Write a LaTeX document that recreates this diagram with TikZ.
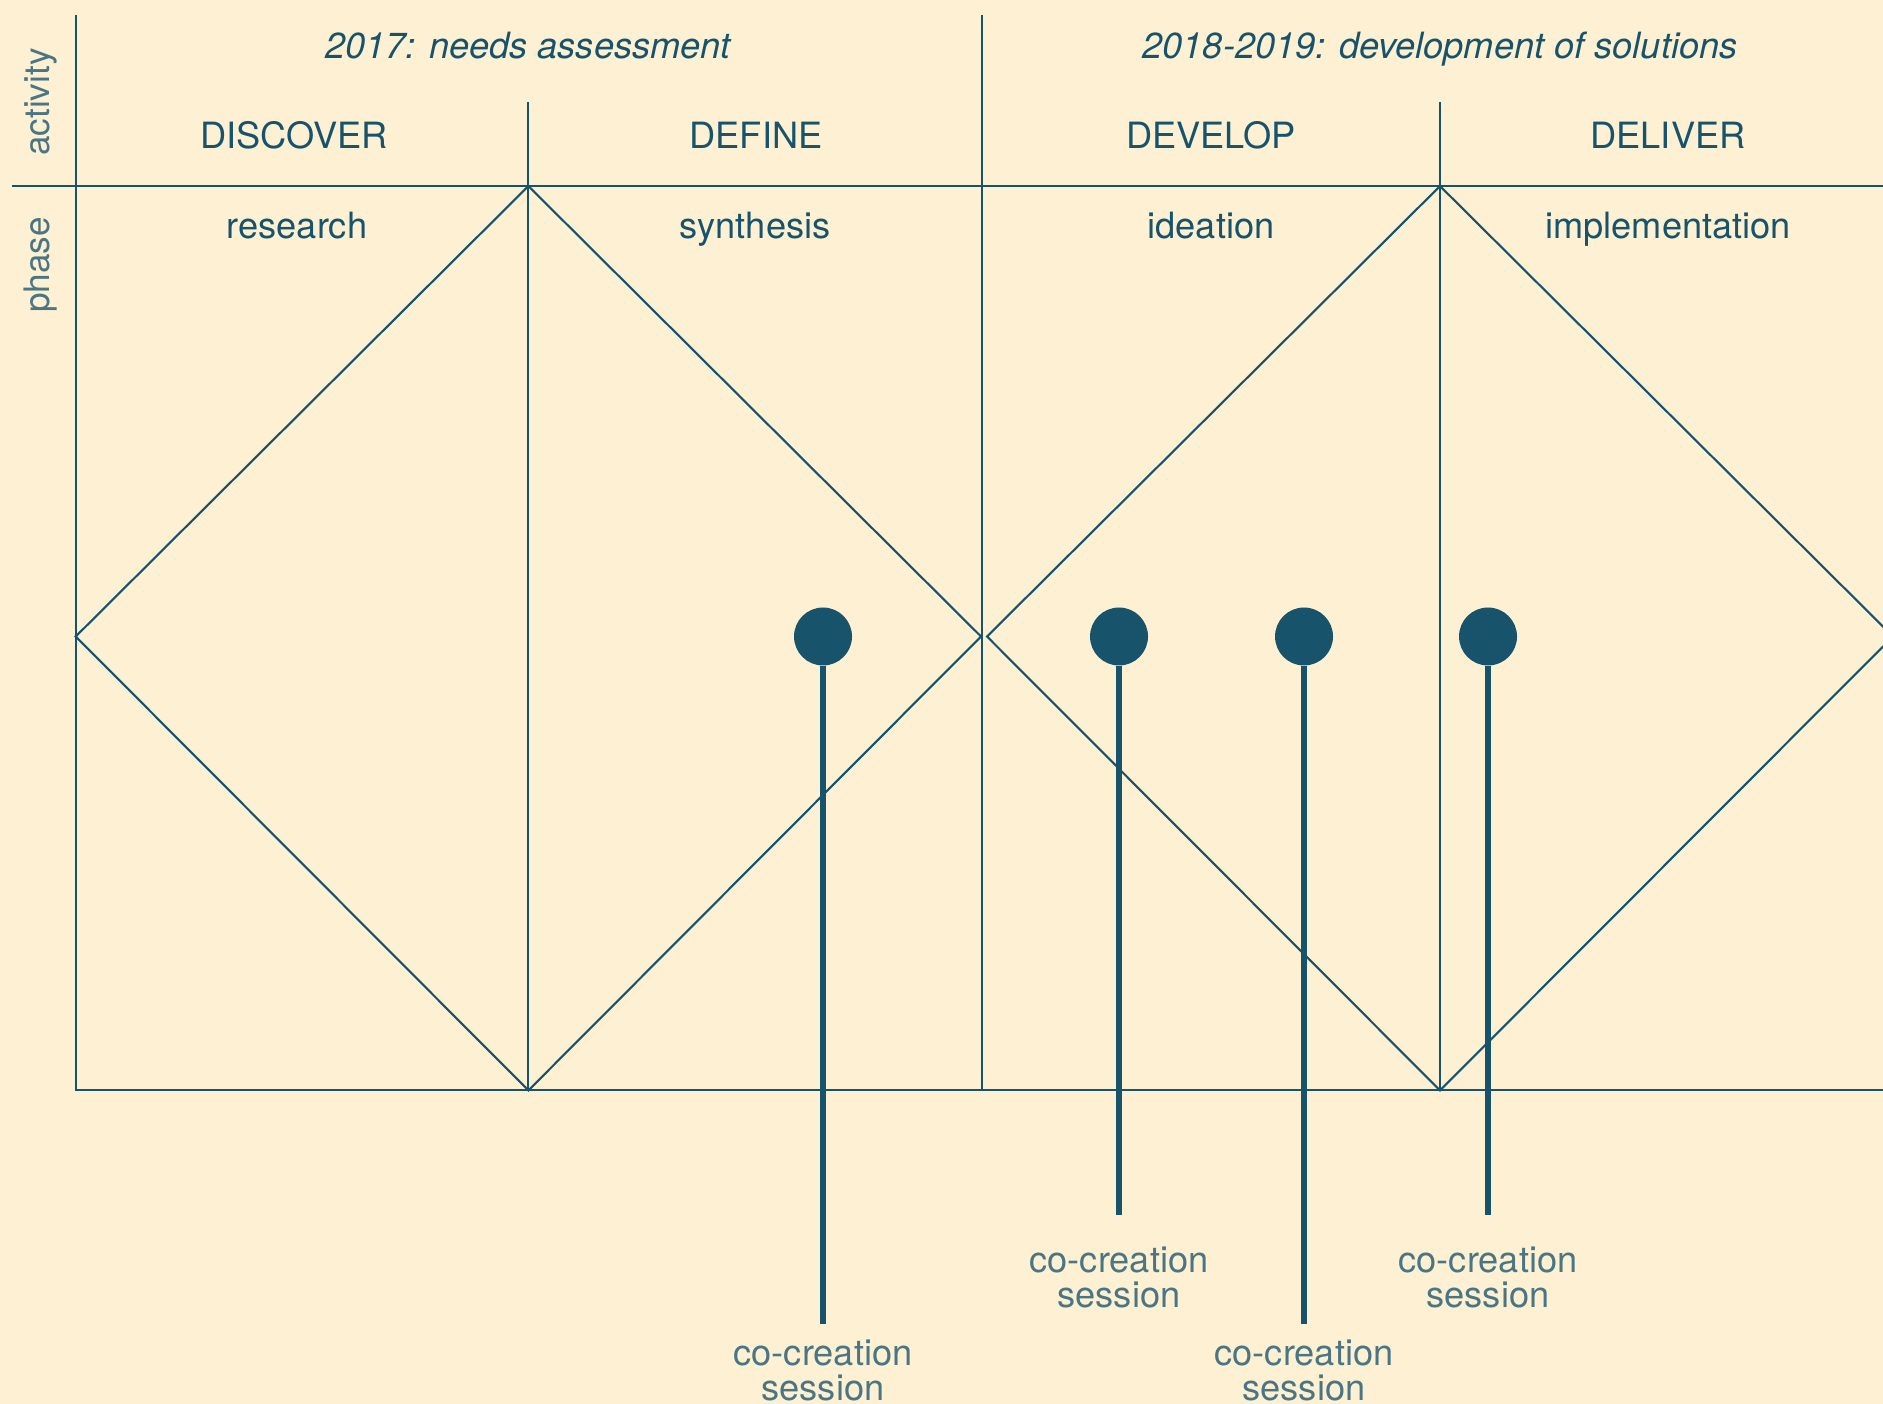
\documentclass[tikz,border=0pt]{standalone}
\usepackage{fontspec}
\setmainfont{TeX Gyre Heros}
\usetikzlibrary{positioning}

\definecolor{cream}{HTML}{FEF0D3}
\definecolor{petrol}{HTML}{17546C}
\colorlet{petrolfade}{petrol!78!cream}

\begin{document}
\begin{tikzpicture}[node distance={0.31cm},
    rule/.style = {draw=petrol, line width=0.6pt},
    head/.style = {text=petrol, inner sep=0, anchor=base, font=\fontsize{10.3}{12}\selectfont},
    period/.style = {head, font=\fontsize{10.3}{12}\selectfont\itshape},
    axis/.style = {text=petrolfade, inner sep=0, anchor=base, rotate=90, font=\fontsize{10}{12}\selectfont},
    dot/.style = {circle, fill=petrol, minimum size=0.58cm, inner sep=0},
    stem/.style = {draw=petrol, line width=1.55pt},
    note/.style = {text=petrolfade, inner sep=0, align=center, font=\fontsize{10.3}{9.96}\selectfont}]

    \useasboundingbox[fill=cream] (0,0) rectangle (18.83,-14.04);

    % frame of the chart
    \coordinate (top0) at (0.757,-0.15);
    \coordinate (top2) at (9.823,-0.15);
    \coordinate (top1) at (5.284,-1.02);
    \coordinate (top3) at (14.40,-1.02);
    \coordinate (bot0) at (0.757,-10.904);
    \coordinate (bot1) at (5.284,-10.904);
    \coordinate (bot2) at (9.823,-10.904);
    \coordinate (bot3) at (14.40,-10.904);
    \coordinate (botR) at (18.83,-10.904);
    \coordinate (rowL) at (0.12,-1.861);
    \coordinate (rowR) at (18.83,-1.861);

    \draw[rule] (top0) -- (bot0) -- (botR);
    \draw[rule] (top1) -- (bot1);
    \draw[rule] (top2) -- (bot2);
    \draw[rule] (top3) -- (bot3);
    \draw[rule] (rowL) -- (rowR);

    % the two diamonds
    \coordinate (dl1) at (0.757,-6.365);
    \coordinate (dt1) at (5.284,-1.861);
    \coordinate (dr1) at (9.81,-6.365);
    \coordinate (dl2) at (9.87,-6.365);
    \coordinate (dt2) at (14.40,-1.861);
    \coordinate (dr2) at (18.93,-6.365);

    \draw[rule] (dl1) -- (dt1) -- (dr1) -- (bot1) -- cycle;
    \draw[rule] (dl2) -- (dt2) -- (dr2) -- (bot3) -- cycle;

    % headings
    \node[period] (y2017) at (5.28,-0.59) {2017: needs assessment};
    \node[period] (y2018) at (14.40,-0.59) {2018-2019: development of solutions};

    \node[head] (discover) at (2.94,-1.485) {DISCOVER};
    \node[head] (define) at (7.56,-1.485) {DEFINE};
    \node[head] (develop) at (12.11,-1.485) {DEVELOP};
    \node[head] (deliver) at (16.68,-1.485) {DELIVER};

    \node[head] (research) at (2.97,-2.39) {research};
    \node[head] (synthesis) at (7.55,-2.39) {synthesis};
    \node[head] (ideation) at (12.11,-2.39) {ideation};
    \node[head] (implementation) at (16.68,-2.39) {implementation};

    \node[axis] (activity) at (0.49,-1.02) {activity};
    \node[axis] (phase) at (0.49,-2.65) {phase};

    % co-creation sessions
    \node[dot] (s1) at (8.23,-6.365) {};
    \node[dot] (s2) at (11.19,-6.365) {};
    \node[dot] (s3) at (13.04,-6.365) {};
    \node[dot] (s4) at (14.88,-6.365) {};

    \coordinate (e1) at (8.23,-13.24);
    \coordinate (e2) at (11.19,-12.15);
    \coordinate (e3) at (13.04,-13.24);
    \coordinate (e4) at (14.88,-12.15);

    \draw[stem] (s1) -- (e1);
    \draw[stem] (s2) -- (e2);
    \draw[stem] (s3) -- (e3);
    \draw[stem] (s4) -- (e4);

    \node[note] (n1) [below=0.15cm of e1] {co-creation\\session};
    \node[note] (n2) [below=of e2] {co-creation\\session};
    \node[note] (n3) [below=0.15cm of e3] {co-creation\\session};
    \node[note] (n4) [below=of e4] {co-creation\\session};
\end{tikzpicture}
\end{document}
